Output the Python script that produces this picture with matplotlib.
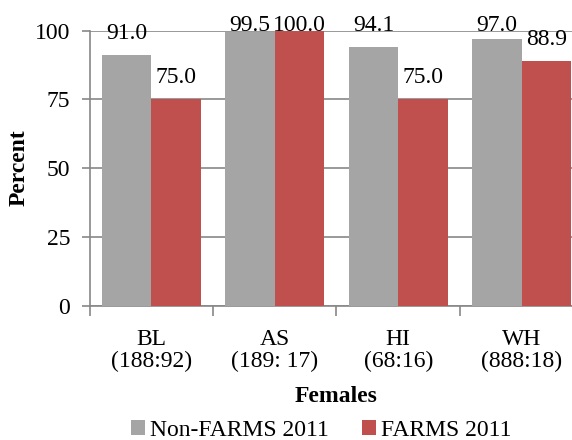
import matplotlib
matplotlib.use("Agg")
import matplotlib.pyplot as plt
import numpy as np

categories = ["BL\n(188:92)", "AS\n(189: 17)", "HI\n(68:16)", "WH\n(888:18)"]
non_farms = [91.0, 99.5, 94.1, 97.0]
farms = [75.0, 100.0, 75.0, 88.9]
series_names = ["Non-FARMS 2011", "FARMS 2011"]
yticks = [0, 25, 50, 75, 100]

plt.rcParams['font.family'] = ['Liberation Serif', 'DejaVu Serif']
FS = 17

W, H = 572, 440
fig = plt.figure(figsize=(W/100, H/100), dpi=100)
left, right, top, bottom = 89.5, 583.5, 30.7, 305.5
ax = fig.add_axes([left/W, 1-bottom/H, (right-left)/W, (bottom-top)/H])

x = np.arange(len(categories))
bw = 0.4
grey = '#A5A5A5'
red = '#C0504D'
b1 = ax.bar(x - bw/2, non_farms, bw, color=grey, zorder=3, label=series_names[0])
b2 = ax.bar(x + bw/2, farms, bw, color=red, zorder=3, label=series_names[1])

ymax = 100
for bars, vals in ((b1, non_farms), (b2, farms)):
    for r, v in zip(bars, vals):
        ax.text(r.get_x()+r.get_width()/2, min(v + 5.8, ymax), f"{v:.1f}",
                ha='center', va='baseline', fontsize=FS, zorder=5, clip_on=False)

ax.set_xlim(-0.5, len(categories)-0.5)
ax.set_ylim(0, ymax)
ax.set_yticks(yticks)
ax.set_yticklabels([str(v) for v in yticks], fontsize=FS)
ax.yaxis.grid(True, color='#878787', linewidth=1.2, zorder=0)
ax.set_xticks(x)
ax.set_xticklabels(categories, fontsize=FS, linespacing=1.05)
ax.set_xticks(np.arange(-0.5, len(categories)), minor=True)
ax.tick_params(axis='x', which='major', length=0, pad=17)
ax.tick_params(axis='x', which='minor', length=7, color='#878787', width=1.2)
ax.tick_params(axis='y', length=6, color='#878787', width=1.2, pad=8)
for s in ['top', 'right']:
    ax.spines[s].set_visible(False)
for s in ['left', 'bottom']:
    ax.spines[s].set_color('#878787')
    ax.spines[s].set_linewidth(1.2)

ax.set_ylabel("Percent", fontsize=FS, fontweight='bold')
ax.yaxis.set_label_coords(19/W, 1-168/H, transform=fig.transFigure)
ax.yaxis.label.set_va('center')
ax.yaxis.label.set_rotation_mode('anchor')
ax.set_xlabel("Females", fontsize=FS, fontweight='bold')
ax.xaxis.set_label_coords(336.5/W, 1-396/H, transform=fig.transFigure)
ax.xaxis.label.set_va('center')

fig.legend(handles=[b1, b2], labels=series_names, loc='center', bbox_to_anchor=(321/W, 1-430/H),
           ncol=2, frameon=False, fontsize=FS, handlelength=0.6, handleheight=0.6,
           handletextpad=0.2, columnspacing=1.4, borderpad=0, borderaxespad=0)

fig.savefig("out.png", dpi=100)
